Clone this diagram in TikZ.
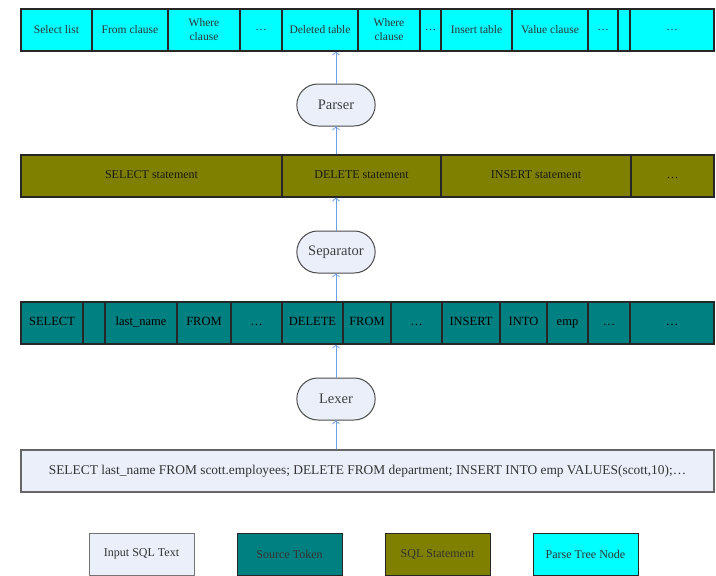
\documentclass[tikz,border=0pt]{standalone}
\usepackage{fontspec}
\setmainfont{Liberation Serif}
\usetikzlibrary{positioning,arrows.meta,shapes.misc}
\definecolor{treecol}{RGB}{0,255,255}
\definecolor{stmtcol}{RGB}{128,128,0}
\definecolor{tokcol}{RGB}{0,128,128}
\definecolor{inputcol}{RGB}{234,239,250}
\definecolor{arrowcol}{RGB}{110,160,230}
\begin{document}
\begin{tikzpicture}[
    x=1pt, y=-1pt,
    cell/.style={rectangle, draw=black!85, line width=1.2pt, inner sep=0pt, minimum height=42pt, align=center},
    tree/.style={cell, fill=treecol, font=\fontsize{11.5}{14}\selectfont, text=black!80},
    stmt/.style={cell, fill=stmtcol, font=\fontsize{12}{13}\selectfont, text=black!90, text height=1.6ex, text depth=0.4ex},
    token/.style={cell, fill=tokcol, font=\fontsize{12.5}{14}\selectfont, text=black, text height=1.6ex, text depth=0.4ex},
    stage/.style={rounded rectangle, draw=black!70, fill=inputcol, line width=1pt, minimum width=85pt, minimum height=42pt, font=\fontsize{14.5}{16}\selectfont, text=black!75},
    key/.style={rectangle, draw=black!85, line width=1pt, minimum width=105pt, minimum height=42pt, font=\fontsize{12}{13}\selectfont, text=black!80},
    arrow/.style={-{Straight Barb[length=3pt,width=7pt]}, line width=0.8pt, color=arrowcol}
]
\useasboundingbox (0,0) rectangle (716,576);

% parse tree nodes
\foreach \a/\b/\t [count=\i] in {21/92/Select list, 92/168/From clause, 168/240/{Where\\clause}, 240/282/\ldots, 282/358/Deleted table, 358/420/{Where\\clause}, 420/441/\ldots, 441/512/Insert table, 512/588/Value clause, 588/618/\ldots, 618/630/{}, 630/714/\ldots}
    \node[tree, minimum width={(\b-\a)*1pt}] (tree\i) at ({(\a+\b)/2},30) {\t};

% sql statements
\foreach \a/\b/\t [count=\i] in {21/282/SELECT statement, 282/441/DELETE statement, 441/631/INSERT statement, 631/714/\ldots}
    \node[stmt, minimum width={(\b-\a)*1pt}] (stmt\i) at ({(\a+\b)/2},176) {\t};

% source tokens
\foreach \a/\b/\t [count=\i] in {21/83/SELECT, 83/105/{}, 105/177/last\_name, 177/231/FROM, 231/282/\ldots, 282/343/DELETE, 343/391/FROM, 391/442/\ldots, 442/500/INSERT, 500/547/INTO, 547/588/emp, 588/630/\ldots, 630/714/\ldots}
    \node[token, minimum width={(\b-\a)*1pt}] (tok\i) at ({(\a+\b)/2},323) {\t};

\node[cell, draw=black!60, fill=inputcol, minimum width=693pt, font=\fontsize{13.4}{15}\selectfont, text=black!80] (input) at (367.5,471) {SELECT last\_name FROM scott.employees; DELETE FROM department; INSERT INTO emp VALUES(scott,10);\ldots};

\node[stage] (parser) at (336,105) {Parser};
\node[stage] (sep) at (336,252) {Separator};
\node[stage] (lexer) at (336,399) {Lexer};

\draw[arrow] (input.north -| lexer.south) -- (lexer.south);
\draw[arrow] (lexer.north) -- (lexer.north |- tok6.south);
\draw[arrow] (tok6.north -| sep.south) -- (sep.south);
\draw[arrow] (sep.north) -- (sep.north |- stmt2.south);
\draw[arrow] (stmt2.north -| parser.south) -- (parser.south);
\draw[arrow] (parser.north) -- (parser.north |- tree5.south);

% legend
\node[key, draw=black!55, fill=inputcol] (keyinput) at (141.5,554) {Input SQL Text};
\node[key, fill=tokcol, right=42pt of keyinput] (keytok) {Source Token};
\node[key, fill=stmtcol, right=42pt of keytok] (keystmt) {SQL Statement};
\node[key, fill=treecol, right=42pt of keystmt] (keytree) {Parse Tree Node};

\end{tikzpicture}
\end{document}
